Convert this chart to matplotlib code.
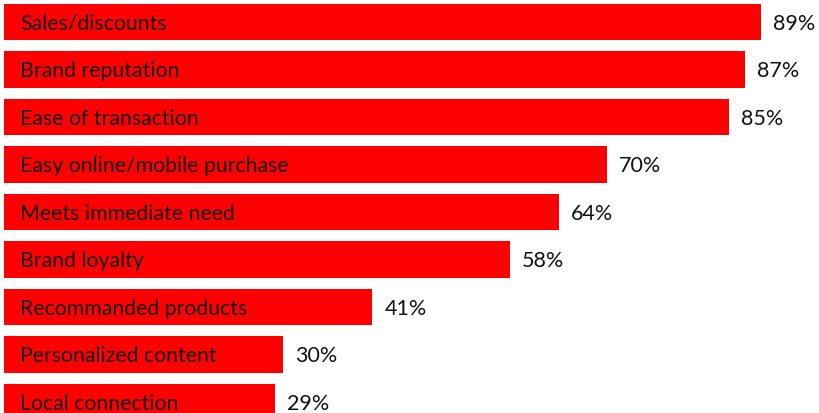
import matplotlib.pyplot as plt

# Data
categories = ["Sales/discounts", "Brand reputation", "Ease of transaction",
              "Easy online/mobile purchase", "Meets immediate need", "Brand loyalty",
              "Recommanded products", "Personalized content", "Local connection"]
values = [89, 87, 85, 70, 64, 58, 41, 30, 29]

plt.rcParams['font.family'] = ['Lato', 'DejaVu Sans']

fig = plt.figure(figsize=(8.19, 4.14), dpi=100)
ax = fig.add_axes([4 / 819, 0, 815 / 819, 1])

# axis baseline sits a little below zero, like the original chart
base = -4.47
y = list(range(len(categories)))
ax.barh(y, [v - base for v in values], left=base, height=0.76, color='#ff0000')

for i, (cat, v) in enumerate(zip(categories, values)):
    ax.text(base + 2.0, i + 0.02, cat, va='center', ha='left', fontsize=15.3, color='#111111')
    ax.text(v + 1.5, i + 0.02, f"{v}%", va='center', ha='left', fontsize=15.5, color='#111111')

ax.set_xlim(base, base + 815 / 8.1)
ax.set_ylim(8 + 11 / 47.5, -23 / 47.5)
ax.axis('off')

plt.savefig('out.png', dpi=100)
